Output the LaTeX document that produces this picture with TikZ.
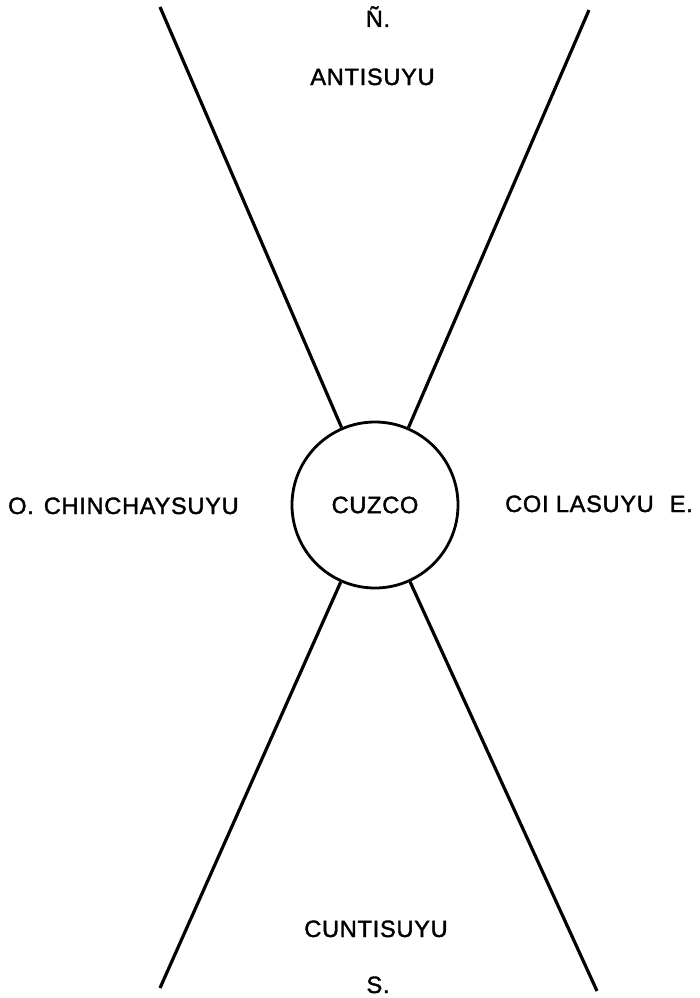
\documentclass[tikz,border=0pt]{standalone}
\usepackage{fontspec}
\setmainfont{Liberation Sans}
\newfontfamily\lblfont{Liberation Sans}[FakeBold=1.6, LetterSpace=3]
\begin{document}
\begin{tikzpicture}[x=1pt,y=-1pt,
  lbl/.style={inner sep=0pt, font=\lblfont\fontsize{23.6}{28}\selectfont},
  ray/.style={line width=3.2pt},
  hub/.style={circle, draw, line width=2.8pt, minimum size=166pt, inner sep=0pt, font=\lblfont\fontsize{23.6}{28}\selectfont}]
\useasboundingbox[fill=white] (0,0) rectangle (700,998);
\node[hub] (c) at (375,505) {CUZCO};
\coordinate (tl) at (160,7);
\coordinate (tr) at (589,10);
\coordinate (bl) at (160,988);
\coordinate (br) at (597,991);
\draw[ray] (tl) -- (c);
\draw[ray] (tr) -- (c);
\draw[ray] (bl) -- (c);
\draw[ray] (br) -- (c);
\node[lbl, anchor=base] (n) at (378,27) {Ñ.};
\node[lbl, anchor=base] (anti) at (372.5,85) {ANTISUYU};
\node[lbl, anchor=base west] (chin) at (8,514) {O.\hspace{10pt}CHINCHAYSUYU};
\node[lbl, anchor=base west] (coll) at (505,512) {COI LASUYU\hspace{16pt}E.};
\node[lbl, anchor=base] (cunti) at (376,937) {CUNTISUYU};
\node[lbl, anchor=base] (s) at (378,993) {S.};
\end{tikzpicture}
\end{document}
